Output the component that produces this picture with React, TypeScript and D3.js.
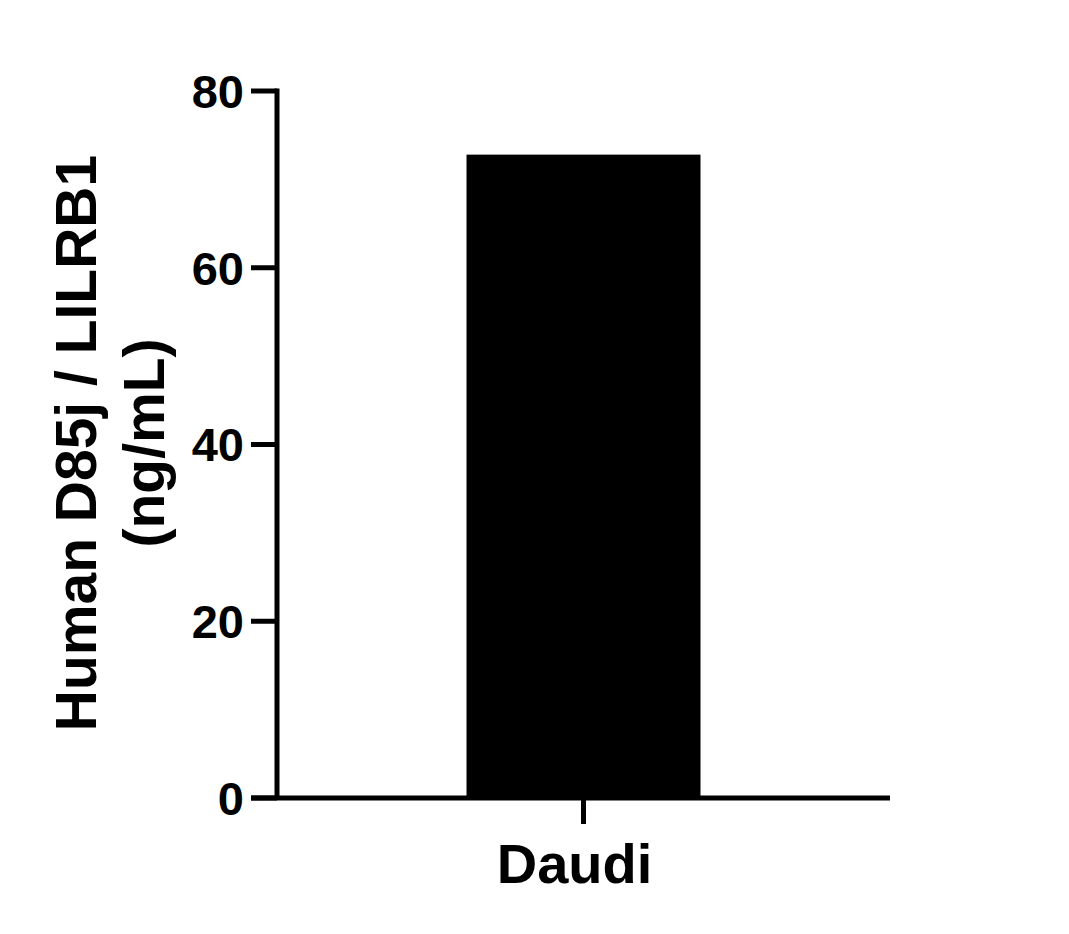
import React from "react";
import * as d3 from "d3";

const categories = ["Daudi"];
const values = [72.8];
const yTicks = [0, 20, 40, 60, 80];
const yLabelLines = ["Human D85j / LILRB1", "(ng/mL)"];

export default function App() {
  const W = 1069, H = 934;
  const left = 277, right = 890, top = 91, bottom = 798;
  const y = d3.scaleLinear().domain([0, 80]).range([bottom, top]);
  const x = d3.scaleBand<string>().domain(categories).range([left, right]).padding(0.4475);
  const font = "'Liberation Sans', Arial, Helvetica, sans-serif";
  const sw = 5;
  return (
    <svg width={W} height={H} style={{ position: "absolute", left: 0, top: 0, background: "#fff" }}>
      <rect x={0} y={0} width={W} height={H} fill="#fff" />
      {categories.map((c, i) => (
        <rect key={c} x={x(c)!} y={y(values[i])} width={x.bandwidth()} height={y(0) - y(values[i])} fill="#000" />
      ))}
      {/* y axis */}
      <line x1={left} x2={left} y1={top - sw / 2} y2={bottom} stroke="#000" strokeWidth={sw} />
      {yTicks.map((t) => (
        <g key={t}>
          <line x1={251} x2={left} y1={y(t)} y2={y(t)} stroke="#000" strokeWidth={sw} />
          <text x={244} y={y(t)} dy="0.36em" textAnchor="end" fontFamily={font} fontWeight="bold" fontSize={47} fill="#000">
            {t}
          </text>
        </g>
      ))}
      {/* x axis */}
      <line x1={251} x2={right} y1={bottom} y2={bottom} stroke="#000" strokeWidth={sw} />
      {categories.map((c) => {
        const cx = x(c)! + x.bandwidth() / 2;
        return (
          <g key={c}>
            <line x1={cx} x2={cx} y1={bottom} y2={824} stroke="#000" strokeWidth={sw} />
            <text x={cx - 9} y={883} textAnchor="middle" fontFamily={font} fontWeight="bold" fontSize={56} fill="#000">
              {c}
            </text>
          </g>
        );
      })}
      {/* y label */}
      {yLabelLines.map((l, i) => (
        <text
          key={i}
          transform={`translate(${96 + i * 68}, 443) rotate(-90)`}
          textAnchor="middle"
          fontFamily={font}
          fontWeight="bold"
          fontSize={57}
          fill="#000"
        >
          {l}
        </text>
      ))}
    </svg>
  );
}
